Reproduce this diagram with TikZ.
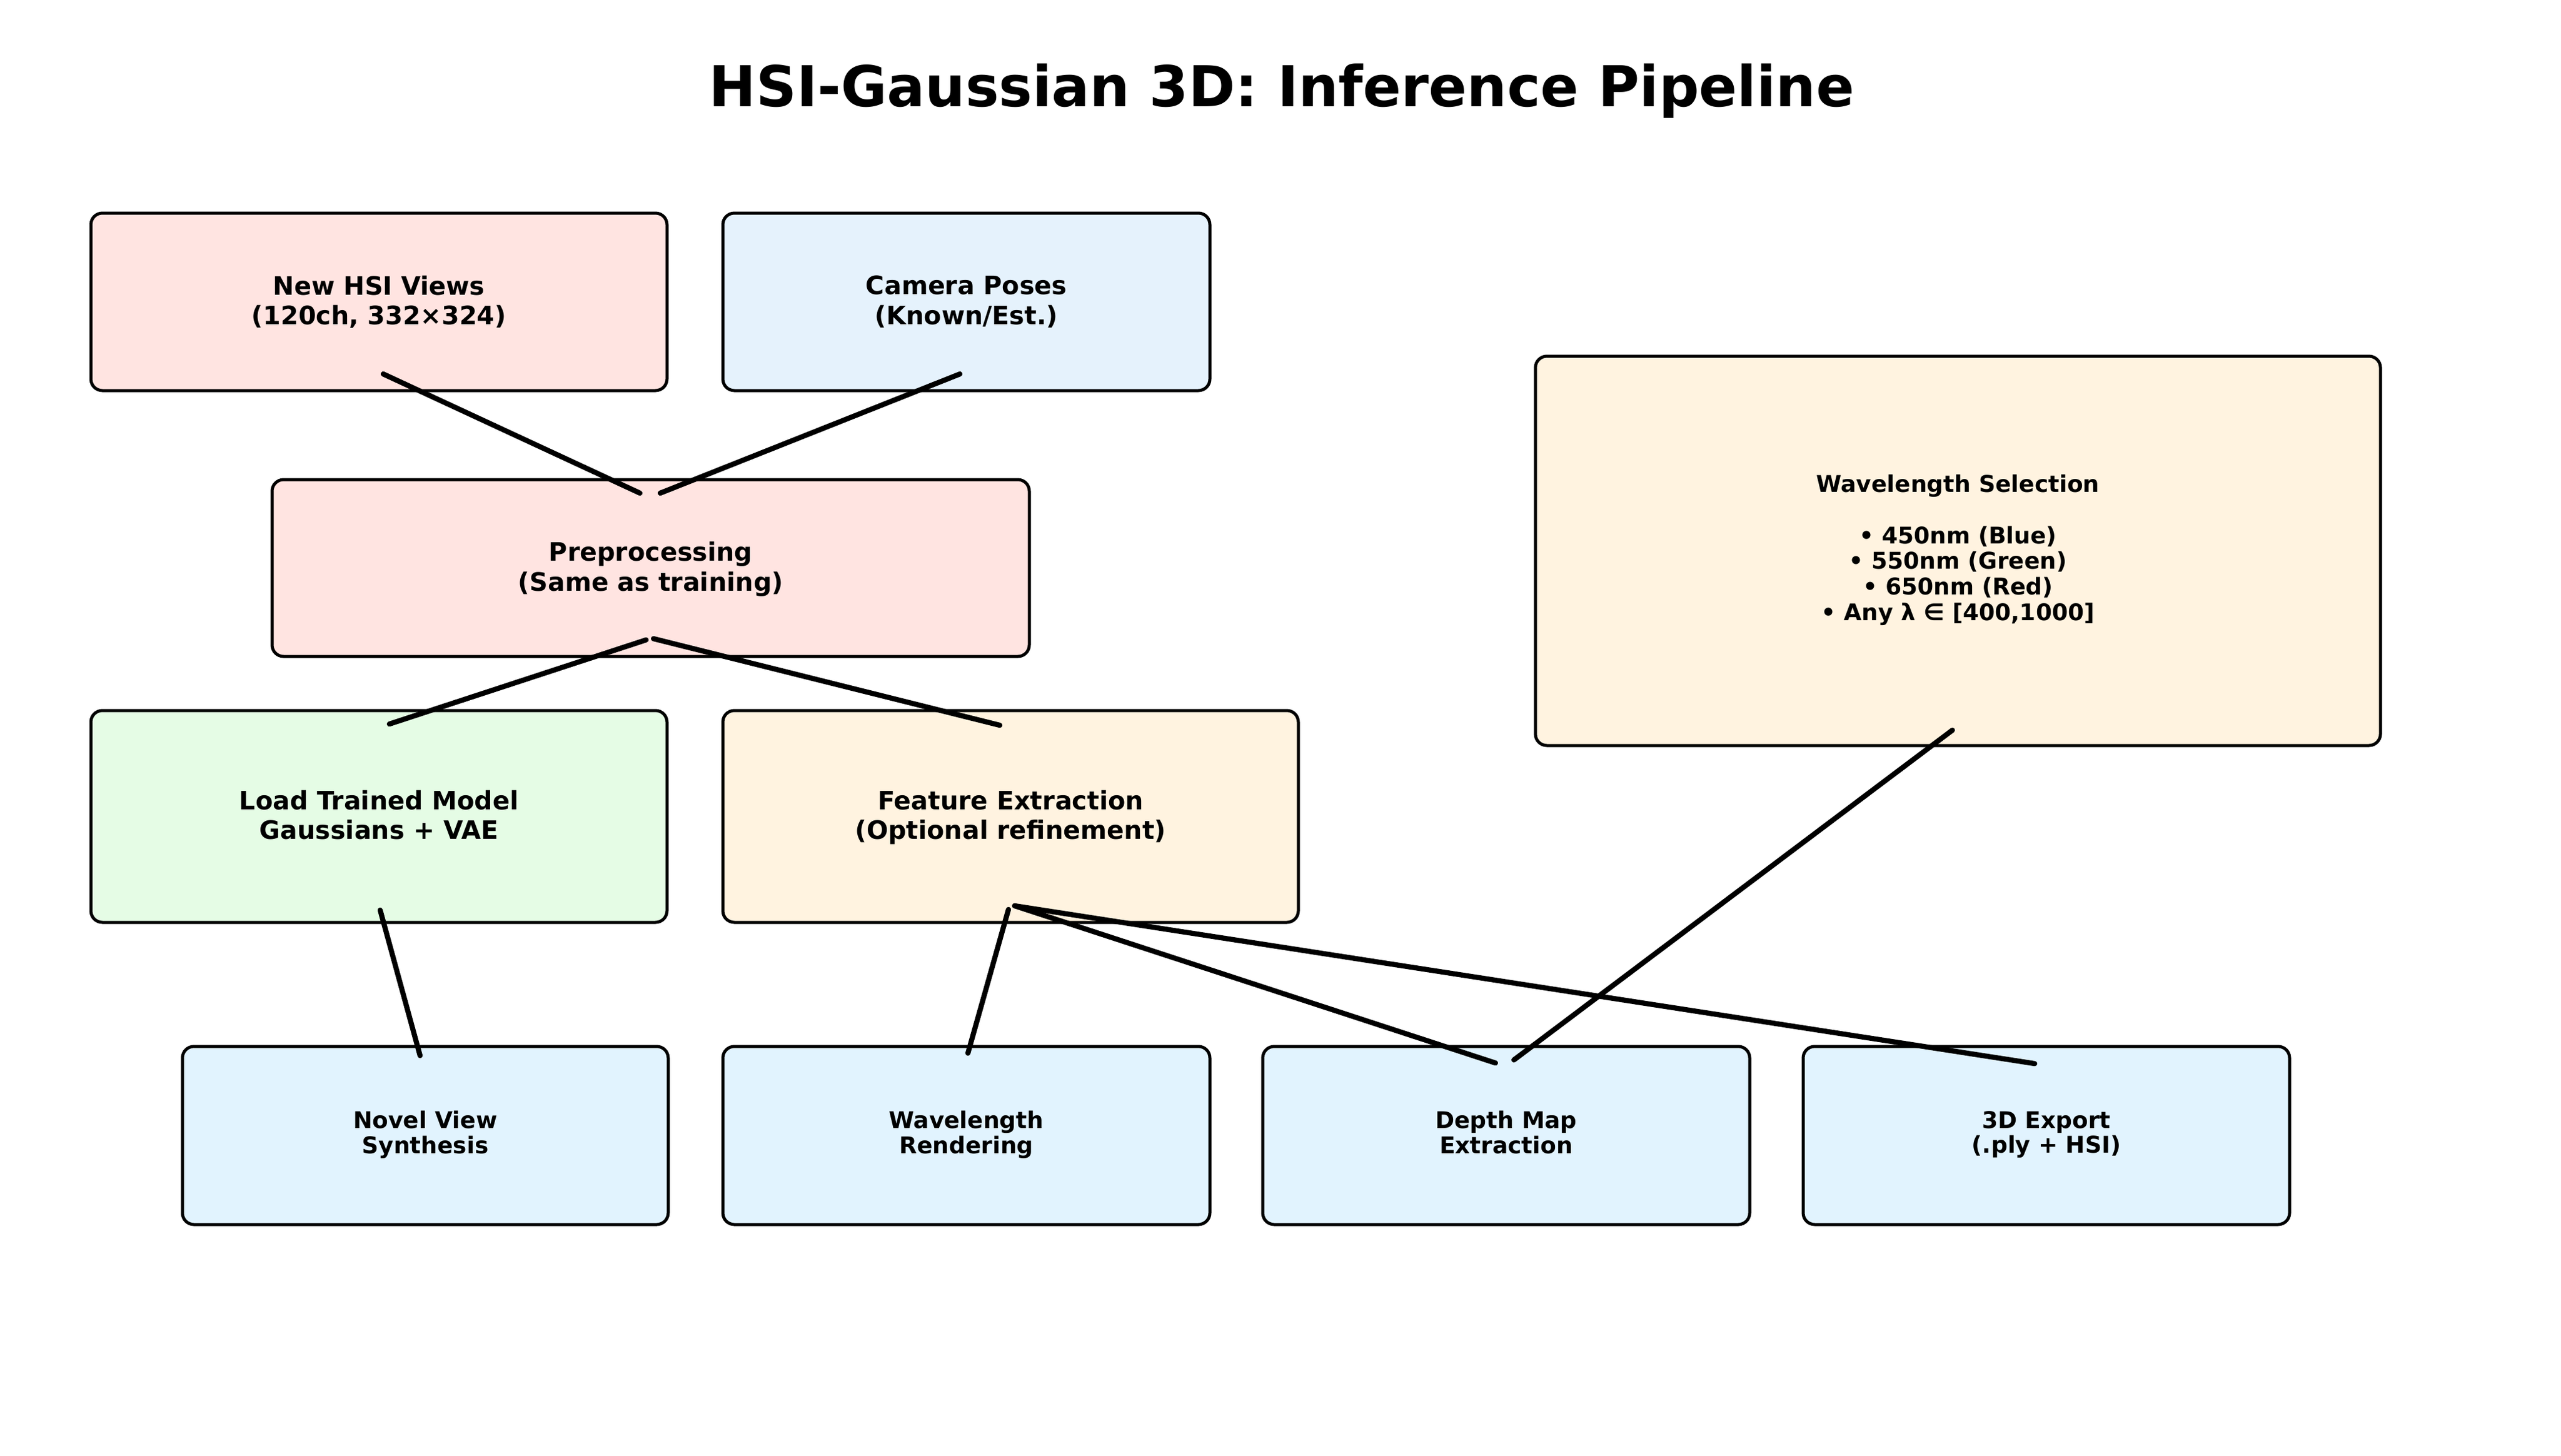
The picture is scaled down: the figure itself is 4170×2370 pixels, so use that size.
\documentclass[tikz,border=0pt]{standalone}
\usepackage{fontspec}
\setmainfont{DejaVu Sans}
\usetikzlibrary{calc}
\definecolor{pinkfill}{HTML}{FFE4E1}
\definecolor{camfill}{HTML}{E5F2FC}
\definecolor{greenfill}{HTML}{E5FCE5}
\definecolor{orangefill}{HTML}{FFF3E0}
\definecolor{bluefill}{HTML}{E1F3FE}
\tikzset{
  box/.style={draw=black, line width=1.2pt, rounded corners=4.5pt, inner sep=0pt, outer sep=0pt,
    align=center, text depth=1.3pt, font=\bfseries\fontsize{9.9}{11.6}\selectfont},
  outbox/.style={box, fill=bluefill, text depth=2.5pt, font=\bfseries\fontsize{9}{9.7}\selectfont},
  link/.style={draw=black, line width=2pt, line cap=round},
  sz/.style 2 args={minimum width={#1*0.24pt}, minimum height={#2*0.24pt}},
}
\begin{document}
\begin{tikzpicture}[x=0.24pt, y=-0.24pt]
\fill[white] (0,0) rectangle (4170,2370);
\useasboundingbox (0,0) rectangle (4170,2370);

\node[anchor=base, font=\bfseries\fontsize{22}{26}\selectfont] (title) at (2087,173) {HSI-Gaussian 3D: Inference Pipeline};

\node[box, fill=pinkfill, sz={938}{289}] (newhsi) at (617,491.5) {New HSI Views\\(120ch, 332×324)};
\node[box, fill=camfill, sz={793}{289}] (cam) at (1573.5,491.5) {Camera Poses\\(Known/Est.)};
\node[box, fill=pinkfill, sz={1233}{288}] (pre) at (1059.5,925) {Preprocessing\\(Same as training)};
\node[box, fill=greenfill, sz={938}{345}] (load) at (617,1329.5) {Load Trained Model\\Gaussians + VAE};
\node[box, fill=orangefill, sz={937}{345}] (feat) at (1645.5,1329.5) {Feature Extraction\\(Optional refinement)};
\node[box, fill=orangefill, sz={1376}{634}, text depth=2.5pt, font=\bfseries\fontsize{9}{10}\selectfont] (ws) at (3188,897)
  {Wavelength Selection\\\mbox{}\\• 450nm (Blue)\\• 550nm (Green)\\• 650nm (Red)\\• Any λ ∈ [400,1000]};

\node[outbox, sz={791}{290}] (novel) at (692.5,1849) {Novel View\\Synthesis};
\node[outbox, sz={793}{290}] (wrend) at (1573.5,1849) {Wavelength\\Rendering};
\node[outbox, sz={793}{290}] (depth) at (2452.5,1849) {Depth Map\\Extraction};
\node[outbox, sz={792}{290}] (export) at (3332,1849) {3D Export\\(.ply + HSI)};

\draw[link] ($(newhsi.south)+(7,-27)$) -- ($(pre.north)+(-17.5,22)$);
\draw[link] ($(cam.south)+(-10.5,-27)$) -- ($(pre.north)+(15.5,22)$);
\draw[link] ($(pre.south)+(-7.5,-27)$) -- ($(load.north)+(17,22)$);
\draw[link] ($(pre.south)+(4.5,-29)$) -- ($(feat.north)+(-17.5,24)$);
\draw[link] ($(load.south)+(2,-20)$) -- ($(novel.north)+(-8.5,15)$);
\draw[link] ($(feat.south)+(-3.5,-21)$) -- ($(wrend.north)+(2.5,11)$);
\draw[link] ($(feat.south)+(6.5,-27)$) -- ($(depth.north)+(-17.5,27)$);
\draw[link] ($(feat.south)+(6.5,-27)$) -- ($(export.north)+(-19,28)$);
\draw[link] ($(ws.south)+(-9,-25)$) -- ($(depth.north)+(12.5,22)$);
\end{tikzpicture}
\end{document}
